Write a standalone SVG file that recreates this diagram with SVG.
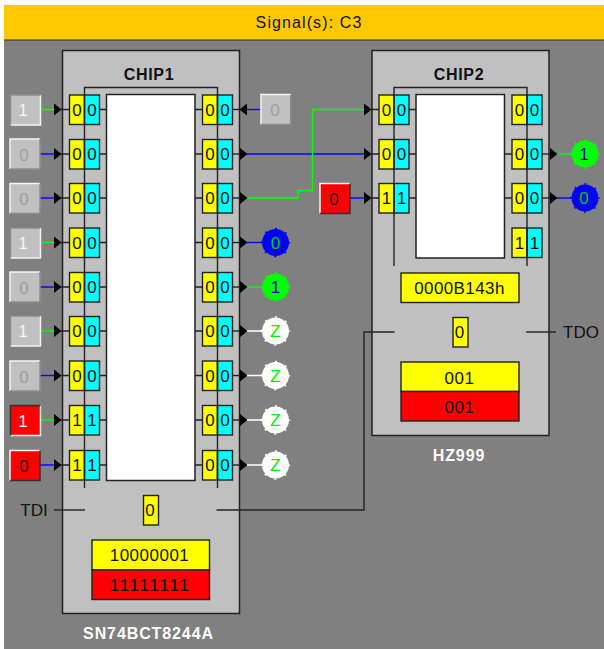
<svg xmlns="http://www.w3.org/2000/svg" width="604" height="649" viewBox="0 0 604 649">
<style>
text{font-family:"Liberation Sans",Arial,sans-serif;font-size:17px;text-anchor:middle;fill:#111;font-kerning:none}
.chip{fill:#c0c0c0;stroke:#222;stroke-width:1.5}
.inner{fill:#fff;stroke:#222;stroke-width:1.5}
.chain,.bl{fill:none;stroke:#222;stroke-width:1.4}
.y{fill:#ff0;stroke:#222;stroke-width:1.4}
.c{fill:#0ff;stroke:#222;stroke-width:1.4}
.r{fill:#f00;stroke:#222;stroke-width:1.4}
.b{font-weight:bold;font-size:16px;letter-spacing:.7px}
.lbl{font-weight:bold;font-size:16px;fill:#fff;letter-spacing:.9px}
.ttl{font-size:16px;letter-spacing:1.1px}
.g{fill:#c0c0c0}
.rb{fill:#f00}
.hi{fill:none;stroke:#f4f4f4;stroke-width:1.5}
.lo{fill:none;stroke:#333;stroke-width:1.5}
.lo2{fill:none;stroke:#8c8c8c;stroke-width:1.5}
.wg{fill:none;stroke:#0f0;stroke-width:1.4}
.wb{fill:none;stroke:#00f;stroke-width:1.4}
.ww{fill:none;stroke:#fff;stroke-width:1.4}
.dim{fill:#a0a0a0}
.wt{fill:#f4f4f4}
.bump{fill:none;stroke-width:1.5;stroke-dasharray:2 9;stroke-dashoffset:1}
</style>
<defs>
<marker id="arr" markerUnits="userSpaceOnUse" markerWidth="8" markerHeight="14" refX="0" refY="7" orient="auto"><path d="M0 1L7.500 7L0 13Z" fill="#000"/></marker>
<g id="cell"><rect class="y" x="0" y="0" width="15" height="29.5"/><rect class="c" x="15" y="0" width="15" height="29.500"/></g>
<g id="up"><path class="hi" d="M0 30V0H30"/><path class="lo2" d="M30 0V30H0"/></g>
<g id="upr"><path class="hi" d="M0 30V0H30"/><path class="lo" d="M30 0V30H0"/></g>
<g id="dn"><path class="hi" d="M30 0V30H0"/><path class="lo2" d="M0 30V0H30"/></g>
<g id="dnr"><path class="hi" d="M30 0V30H0"/><path class="lo" d="M0 30V0H30"/></g>
</defs>
<rect x="4" y="5" width="600" height="644" fill="#808080"/>
<g id="header"><rect x="4" y="5" width="600" height="34.500" fill="#ffc800"/><rect x="4" y="39.500" width="600" height="1.500" fill="#555"/><text class="ttl" x="309" y="28">Signal(s): C3</text></g>

<g id="chip1">
<rect class="chip" x="62.500" y="50.500" width="177" height="563"/>
<rect class="inner" x="106.500" y="94.500" width="88.500" height="386"/>
<text class="b" x="149" y="80">CHIP1</text>
<use href="#cell" x="69.500" y="95"/><use href="#cell" x="69.500" y="139.500"/><use href="#cell" x="69.500" y="183.500"/><use href="#cell" x="69.500" y="228"/><use href="#cell" x="69.500" y="272.500"/><use href="#cell" x="69.500" y="316.500"/><use href="#cell" x="69.500" y="361"/><use href="#cell" x="69.500" y="405.500"/><use href="#cell" x="69.500" y="450.500"/>
<use href="#cell" x="202.500" y="95"/><use href="#cell" x="202.500" y="139.500"/><use href="#cell" x="202.500" y="183.500"/><use href="#cell" x="202.500" y="228"/><use href="#cell" x="202.500" y="272.500"/><use href="#cell" x="202.500" y="316.500"/><use href="#cell" x="202.500" y="361"/><use href="#cell" x="202.500" y="405.500"/><use href="#cell" x="202.500" y="450.500"/>
<path class="chain" d="M84.500 488V87.500H217.500V488"/>
<text x="77" y="115.500">0</text><text x="92" y="115.500">0</text><text x="77" y="160">0</text><text x="92" y="160">0</text><text x="77" y="204">0</text><text x="92" y="204">0</text><text x="77" y="248.500">0</text><text x="92" y="248.500">0</text><text x="77" y="293">0</text><text x="92" y="293">0</text><text x="77" y="337">0</text><text x="92" y="337">0</text><text x="77" y="381.500">0</text><text x="92" y="381.500">0</text><text x="77" y="426">1</text><text x="92" y="426">1</text><text x="77" y="471">1</text><text x="92" y="471">1</text>
<text x="210" y="115.500">0</text><text x="225" y="115.500">0</text><text x="210" y="160">0</text><text x="225" y="160">0</text><text x="210" y="204">0</text><text x="225" y="204">0</text><text x="210" y="248.500">0</text><text x="225" y="248.500">0</text><text x="210" y="293">0</text><text x="225" y="293">0</text><text x="210" y="337">0</text><text x="225" y="337">0</text><text x="210" y="381.500">0</text><text x="225" y="381.500">0</text><text x="210" y="426">0</text><text x="225" y="426">0</text><text x="210" y="471">0</text><text x="225" y="471">0</text>
<rect class="y" x="143.500" y="495.500" width="15" height="29.500"/><text x="150" y="516">0</text>
<rect class="y" x="92" y="540" width="117.500" height="30"/><text x="149.500" y="561" letter-spacing="0.5">10000001</text>
<rect class="r" x="92" y="570" width="117.500" height="29.500"/><text x="149.500" y="591" letter-spacing="0.5">11111111</text>
<text class="lbl" x="148.500" y="639">SN74BCT8244A</text>
</g>

<g id="chip2">
<rect class="chip" x="372" y="50.500" width="177" height="385"/>
<rect class="inner" x="416" y="94.500" width="88.500" height="163.500"/>
<text class="b" x="459" y="80">CHIP2</text>
<use href="#cell" x="379" y="95"/><use href="#cell" x="379" y="139.500"/><use href="#cell" x="379" y="183.500"/>
<use href="#cell" x="512" y="95"/><use href="#cell" x="512" y="139.500"/><use href="#cell" x="512" y="183.500"/><use href="#cell" x="512" y="228"/>
<path class="chain" d="M394 266V87.500H527V266"/>
<text x="386.500" y="115.500">0</text><text x="401.500" y="115.500">0</text><text x="386.500" y="160">0</text><text x="401.500" y="160">0</text><text x="386.500" y="204">1</text><text x="401.500" y="204">1</text>
<text x="519.500" y="115.500">0</text><text x="534.500" y="115.500">0</text><text x="519.500" y="160">0</text><text x="534.500" y="160">0</text><text x="519.500" y="204">0</text><text x="534.500" y="204">0</text><text x="519.500" y="248.500">1</text><text x="534.500" y="248.500">1</text>
<rect class="y" x="401" y="273" width="118" height="29.500"/><text x="459.500" y="294" letter-spacing="0.4">0000B143h</text>
<rect class="y" x="453" y="317.500" width="15" height="29.500"/><text x="459.500" y="338">0</text>
<rect class="y" x="401" y="362" width="118" height="29.500"/><text x="459.500" y="384" letter-spacing="0.5">001</text>
<rect class="r" x="401" y="391.500" width="118" height="29.500"/><text x="459.500" y="413" letter-spacing="0.5">001</text>
<text class="lbl" x="459" y="461">HZ999</text>
</g>

<g id="connectors">
<path class="bl" d="M61 109.500H69.500M61 154H69.500M61 198H69.500M61 242.500H69.500M61 287H69.500M61 331H69.500M61 375.500H69.500M61 420H69.500M61 465H69.500"/>
<path class="bl" d="M99.500 109.500H106.500M99.500 154H106.500M99.500 198H106.500M99.500 242.500H106.500M99.500 287H106.500M99.500 331H106.500M99.500 375.500H106.500M99.500 420H106.500M99.500 465H106.500"/>
<path class="bl" d="M195 109.500H202.500M195 154H202.500M195 198H202.500M195 242.500H202.500M195 287H202.500M195 331H202.500M195 375.500H202.500M195 420H202.500M195 465H202.500"/>
<path class="bl" d="M232.500 109.500H240"/>
<path class="wg" marker-end="url(#arr)" d="M40 109.500H54"/><path class="wb" marker-end="url(#arr)" d="M40 154H54"/><path class="wb" marker-end="url(#arr)" d="M40 198H54"/><path class="wg" marker-end="url(#arr)" d="M40 242.500H54"/><path class="wb" marker-end="url(#arr)" d="M40 287H54"/><path class="wg" marker-end="url(#arr)" d="M40 331H54"/><path class="wb" marker-end="url(#arr)" d="M40 375.500H54"/><path class="wg" marker-end="url(#arr)" d="M40 420H54"/><path class="wb" marker-end="url(#arr)" d="M40 465H54"/>
<path class="wb" marker-end="url(#arr)" d="M262 109.500H247"/>
<path class="bl" marker-end="url(#arr)" d="M232.500 154H240"/><path class="bl" marker-end="url(#arr)" d="M232.500 198H240"/><path class="bl" marker-end="url(#arr)" d="M232.500 242.500H240"/><path class="bl" marker-end="url(#arr)" d="M232.500 287H240"/><path class="bl" marker-end="url(#arr)" d="M232.500 331H240"/><path class="bl" marker-end="url(#arr)" d="M232.500 375.500H240"/><path class="bl" marker-end="url(#arr)" d="M232.500 420H240"/><path class="bl" marker-end="url(#arr)" d="M232.500 465H240"/>
<path class="wb" marker-end="url(#arr)" d="M247 154H364"/>
<path class="wg" marker-end="url(#arr)" d="M247 198H298V190.500H312.500V109.500H364"/>
<path class="wb" marker-end="url(#arr)" d="M350 198H364"/>
<path class="bl" d="M371 109.500H379M371 154H379M371 198H379M409 109.500H416M409 154H416M409 198H416M504.500 154H512M504.500 198H512"/>
<path class="bl" marker-end="url(#arr)" d="M542 154H550"/><path class="bl" marker-end="url(#arr)" d="M542 198H550"/>
<path class="wb" d="M247 242.500H262"/><path class="wg" d="M247 287H262"/><path class="ww" d="M247 331H262M247 375.500H262M247 420H262M247 465H262"/>
<path class="wg" d="M557 154H571"/><path class="wb" d="M557 198H571"/>
<path class="bl" d="M54 510H85"/>
<path class="bl" d="M216.500 510H364V332H394.500"/>
<path class="bl" d="M526 332H556"/>
</g>

<g id="in1"><rect class="g" x="10.500" y="95" width="30" height="30"/><use href="#dn" x="10.500" y="95"/><text class="wt" x="23" y="116">1</text></g>
<g id="in2"><rect class="g" x="10" y="139" width="30" height="30"/><use href="#up" x="10" y="139"/><text class="dim" x="24" y="160.500">0</text></g>
<g id="in3"><rect class="g" x="10" y="183.500" width="30" height="30"/><use href="#up" x="10" y="183.500"/><text class="dim" x="24" y="205">0</text></g>
<g id="in4"><rect class="g" x="10.500" y="228" width="30" height="30"/><use href="#dn" x="10.500" y="228"/><text class="wt" x="23" y="249">1</text></g>
<g id="in5"><rect class="g" x="10" y="272" width="30" height="30"/><use href="#up" x="10" y="272"/><text class="dim" x="24" y="293.500">0</text></g>
<g id="in6"><rect class="g" x="10.500" y="316" width="30" height="30"/><use href="#dn" x="10.500" y="316"/><text class="wt" x="23" y="337">1</text></g>
<g id="in7"><rect class="g" x="10" y="361" width="30" height="30"/><use href="#up" x="10" y="361"/><text class="dim" x="24" y="382.500">0</text></g>
<g id="in8"><rect class="rb" x="10.500" y="405.500" width="30" height="30"/><use href="#dnr" x="10.500" y="405.500"/><text class="wt" x="23" y="427">1</text></g>
<g id="in9"><rect class="rb" x="10" y="450.500" width="30" height="30"/><use href="#upr" x="10" y="450.500"/><text x="24" y="472">0</text></g>
<g id="in10"><rect class="g" x="261" y="94.500" width="29" height="29.500"/><use href="#up" x="261" y="94.500"/><text class="dim" x="275" y="116">0</text></g>
<g id="in11"><rect class="rb" x="320" y="183.500" width="30" height="29.500"/><use href="#upr" x="320" y="183.500"/><text x="334" y="205">0</text></g>

<g id="out1"><circle cx="275.500" cy="242.500" r="13.500" fill="#00f"/><circle class="bump" cx="275.500" cy="242.500" r="14" stroke="#00f"/><text x="275.500" y="248.500" style="fill:#0c0">0</text></g>
<g id="out2"><circle cx="275.500" cy="287" r="13.500" fill="#0f0"/><circle class="bump" cx="275.500" cy="287" r="14" stroke="#0f0"/><text x="275.500" y="293" style="fill:#00c">1</text></g>
<g id="out3"><circle cx="275.500" cy="331" r="13.500" fill="#fff"/><circle class="bump" cx="275.500" cy="331" r="14" stroke="#fff"/><text x="275.500" y="337" style="fill:#0e0">Z</text></g>
<g id="out4"><circle cx="275.500" cy="375.500" r="13.500" fill="#fff"/><circle class="bump" cx="275.500" cy="375.500" r="14" stroke="#fff"/><text x="275.500" y="381.500" style="fill:#0e0">Z</text></g>
<g id="out5"><circle cx="275.500" cy="420" r="13.500" fill="#fff"/><circle class="bump" cx="275.500" cy="420" r="14" stroke="#fff"/><text x="275.500" y="426" style="fill:#0e0">Z</text></g>
<g id="out6"><circle cx="275.500" cy="465" r="13.500" fill="#fff"/><circle class="bump" cx="275.500" cy="465" r="14" stroke="#fff"/><text x="275.500" y="471" style="fill:#0e0">Z</text></g>
<g id="out7"><circle cx="585" cy="154" r="13.500" fill="#0f0"/><circle class="bump" cx="585" cy="154" r="14" stroke="#0f0"/><text x="584" y="160" style="fill:#00c">1</text></g>
<g id="out8"><circle cx="585" cy="198" r="13.500" fill="#00f"/><circle class="bump" cx="585" cy="198" r="14" stroke="#00f"/><text x="584" y="204" style="fill:#0c0">0</text></g>

<g id="tdi"><text x="34" y="516">TDI</text></g>
<g id="tdo"><text x="581" y="338">TDO</text></g>
</svg>
